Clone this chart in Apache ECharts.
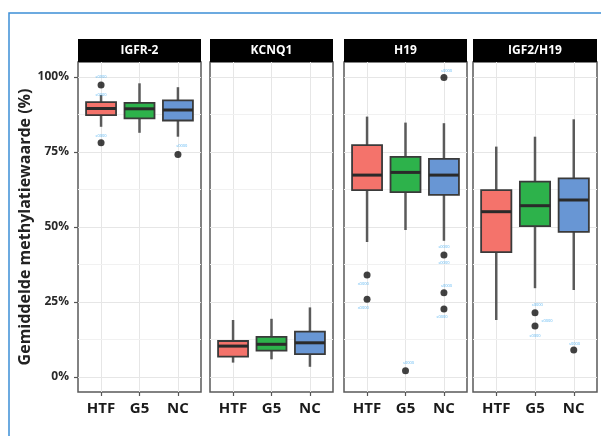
<!DOCTYPE html>
<html><head><meta charset="utf-8">
<script src="https://cdn.jsdelivr.net/npm/echarts@6/dist/echarts.min.js"></script>
<style>html,body{margin:0;padding:0;background:#fff}#c{width:601px;height:436px}</style>
</head><body><div id="c"></div>
<script>
const panels = ['IGFR-2', 'KCNQ1', 'H19', 'IGF2/H19'];
const groups = ['HTF', 'G5', 'NC'];
const yTicks = [0, 25, 50, 75, 100];
const yMinor = [12.5, 37.5, 62.5, 87.5];
// [min, Q1, median, Q3, max] per group (HTF, G5, NC)
const boxIGFR2   = [[83.4, 87.3, 89.5, 91.6, 94.0], [81.4, 86.2, 89.4, 91.4, 97.9], [80.1, 85.5, 89.0, 92.2, 96.6]];
const boxKCNQ1   = [[4.8, 6.8, 10.3, 12.0, 19.0], [5.9, 8.8, 10.9, 13.4, 19.4], [3.4, 7.6, 11.4, 15.1, 23.2]];
const boxH19     = [[45.0, 62.3, 67.3, 77.3, 86.8], [49.0, 61.6, 68.2, 73.4, 84.8], [45.4, 60.7, 67.3, 72.7, 84.6]];
const boxIGF2H19 = [[19.0, 41.6, 55.1, 62.3, 76.8], [29.6, 50.3, 57.1, 65.1, 80.1], [29.0, 48.4, 59.0, 66.2, 85.9]];
// outliers: [group position (1..3), value]
const outIGFR2   = [[1, 97.3], [1, 78.1], [3, 74.2]];
const outKCNQ1   = [];
const outH19     = [[1, 34.0], [1, 25.9], [2, 2.1], [3, 99.8], [3, 40.7], [3, 28.1], [3, 22.7]];
const outIGF2H19 = [[2, 21.4], [2, 17.0], [3, 9.0]];
// small sample tags next to outliers: [x, y]
const tagIGFR2   = [[1, 100.1], [1, 94.0], [1, 80.4], [3.1, 77.1]];
const tagKCNQ1   = [];
const tagH19     = [[0.9, 31.2], [0.9, 23.1], [2.08, 4.6], [3.07, 102.1], [3.0, 43.4], [3.0, 37.9], [3.07, 30.4], [2.95, 19.9]];
const tagIGF2H19 = [[2.06, 24.2], [2.31, 18.8], [2.0, 13.7], [3.02, 11.2]];
const tagText = 's0000';

const boxes = [boxIGFR2, boxKCNQ1, boxH19, boxIGF2H19];
const outs = [outIGFR2, outKCNQ1, outH19, outIGF2H19];
const tags = [tagIGFR2, tagKCNQ1, tagH19, tagIGF2H19];

const fills = ['#F4736B', '#2DB24B', '#6896D4'];
const FONT = '"Open Sans", "Liberation Sans", sans-serif';
const panelLeft = [78, 210, 344, 473];
const panelWidth = [123, 123, 123, 124];
const panelTop = 62, panelHeight = 330, stripH = 23;

function renderBox(params, api) {
  const x = api.value(0);
  const p = [1, 2, 3, 4, 5].map(i => api.coord([x, api.value(i)]));
  const half = api.size([0.78, 0])[0] / 2;
  const cx = p[0][0];
  const fill = fills[Math.round(x) - 1];
  return {
    type: 'group',
    children: [
      { type: 'line', shape: { x1: cx, y1: p[4][1], x2: cx, y2: p[3][1] }, style: { stroke: '#5a5a5a', lineWidth: 2.5 } },
      { type: 'line', shape: { x1: cx, y1: p[1][1], x2: cx, y2: p[0][1] }, style: { stroke: '#5a5a5a', lineWidth: 2.5 } },
      { type: 'rect', shape: { x: cx - half, y: p[3][1], width: 2 * half, height: p[1][1] - p[3][1] }, style: { fill: fill, stroke: '#3a3a3a', lineWidth: 1.8 } },
      { type: 'line', shape: { x1: cx - half, y1: p[2][1], x2: cx + half, y2: p[2][1] }, style: { stroke: '#2a2a2a', lineWidth: 3 } }
    ]
  };
}

const grid = [], xAxis = [], yAxis = [], series = [], graphic = [];
graphic.push({ type: 'rect', shape: { x: 9, y: 13, width: 700, height: 600 }, style: { fill: 'none', stroke: '#3d8fd6', lineWidth: 1.5 }, z: 100 });

panels.forEach((name, i) => {
  grid.push({ left: panelLeft[i], top: panelTop, width: panelWidth[i], height: panelHeight, show: true, borderColor: '#5a5a5a', borderWidth: 1.5, backgroundColor: '#fff' });
  xAxis.push({
    gridIndex: i, type: 'value', min: 0.4, max: 3.6, position: 'bottom',
    axisLine: { show: false, onZero: false },
    axisTick: { show: true, length: 4, customValues: [1, 2, 3], lineStyle: { color: '#555', width: 1.2 } },
    axisLabel: { customValues: [1, 2, 3], formatter: v => groups[Math.round(v) - 1], fontFamily: FONT, fontWeight: 'bold', fontSize: 15, color: '#1a1a1a', margin: 9 },
    splitLine: { show: true, lineStyle: { color: '#e6e6e6', width: 1 } }
  });
  yAxis.push({
    gridIndex: i, type: 'value', min: -5, max: 105, position: 'left',
    axisLine: { show: false, onZero: false },
    axisTick: { show: i === 0, length: 4, customValues: yTicks, lineStyle: { color: '#555', width: 1.2 } },
    axisLabel: { show: i === 0, customValues: yTicks, formatter: '{value}%', fontFamily: FONT, fontWeight: 'bold', fontSize: 12, color: '#2a2a2a', margin: 9 },
    splitLine: { show: true, lineStyle: { color: '#e6e6e6', width: 1 } },
    name: i === 0 ? 'Gemiddelde methylatiewaarde (%)' : '',
    nameLocation: 'middle', nameGap: 43, nameRotate: 90,
    nameTextStyle: { fontFamily: FONT, fontWeight: 'bold', fontSize: 16, color: '#222' }
  });
  series.push({
    type: 'custom', xAxisIndex: i, yAxisIndex: i, z: 3,
    renderItem: renderBox,
    encode: { x: 0, y: [1, 2, 3, 4, 5] },
    data: boxes[i].map((b, k) => [k + 1].concat(b)),
    markLine: {
      silent: true, symbol: 'none', z: 1, label: { show: false },
      lineStyle: { color: '#f1f1f1', type: 'solid', width: 1 },
      data: yMinor.map(v => ({ yAxis: v }))
    }
  });
  series.push({
    type: 'scatter', xAxisIndex: i, yAxisIndex: i, z: 4,
    symbolSize: 7, itemStyle: { color: '#111' },
    data: outs[i]
  });
  series.push({
    type: 'scatter', xAxisIndex: i, yAxisIndex: i, z: 5, silent: true,
    symbolSize: 0,
    label: { show: true, position: 'inside', formatter: tagText, fontSize: 4, color: '#3aa8f0', fontFamily: FONT },
    data: tags[i]
  });
  graphic.push({ type: 'rect', shape: { x: panelLeft[i], y: panelTop - stripH, width: panelWidth[i], height: stripH }, style: { fill: '#000' }, z: 50 });
  graphic.push({ type: 'text', x: panelLeft[i] + panelWidth[i] / 2, y: panelTop - stripH / 2, style: { text: name, fill: '#fff', font: 'bold 12px ' + FONT, textAlign: 'center', textVerticalAlign: 'middle' }, z: 51 });
});

const chart = echarts.init(document.getElementById('c'), null, { renderer: 'canvas' });
chart.setOption({ animation: false, backgroundColor: '#fff', grid, xAxis, yAxis, series, graphic });
</script>
</body></html>
